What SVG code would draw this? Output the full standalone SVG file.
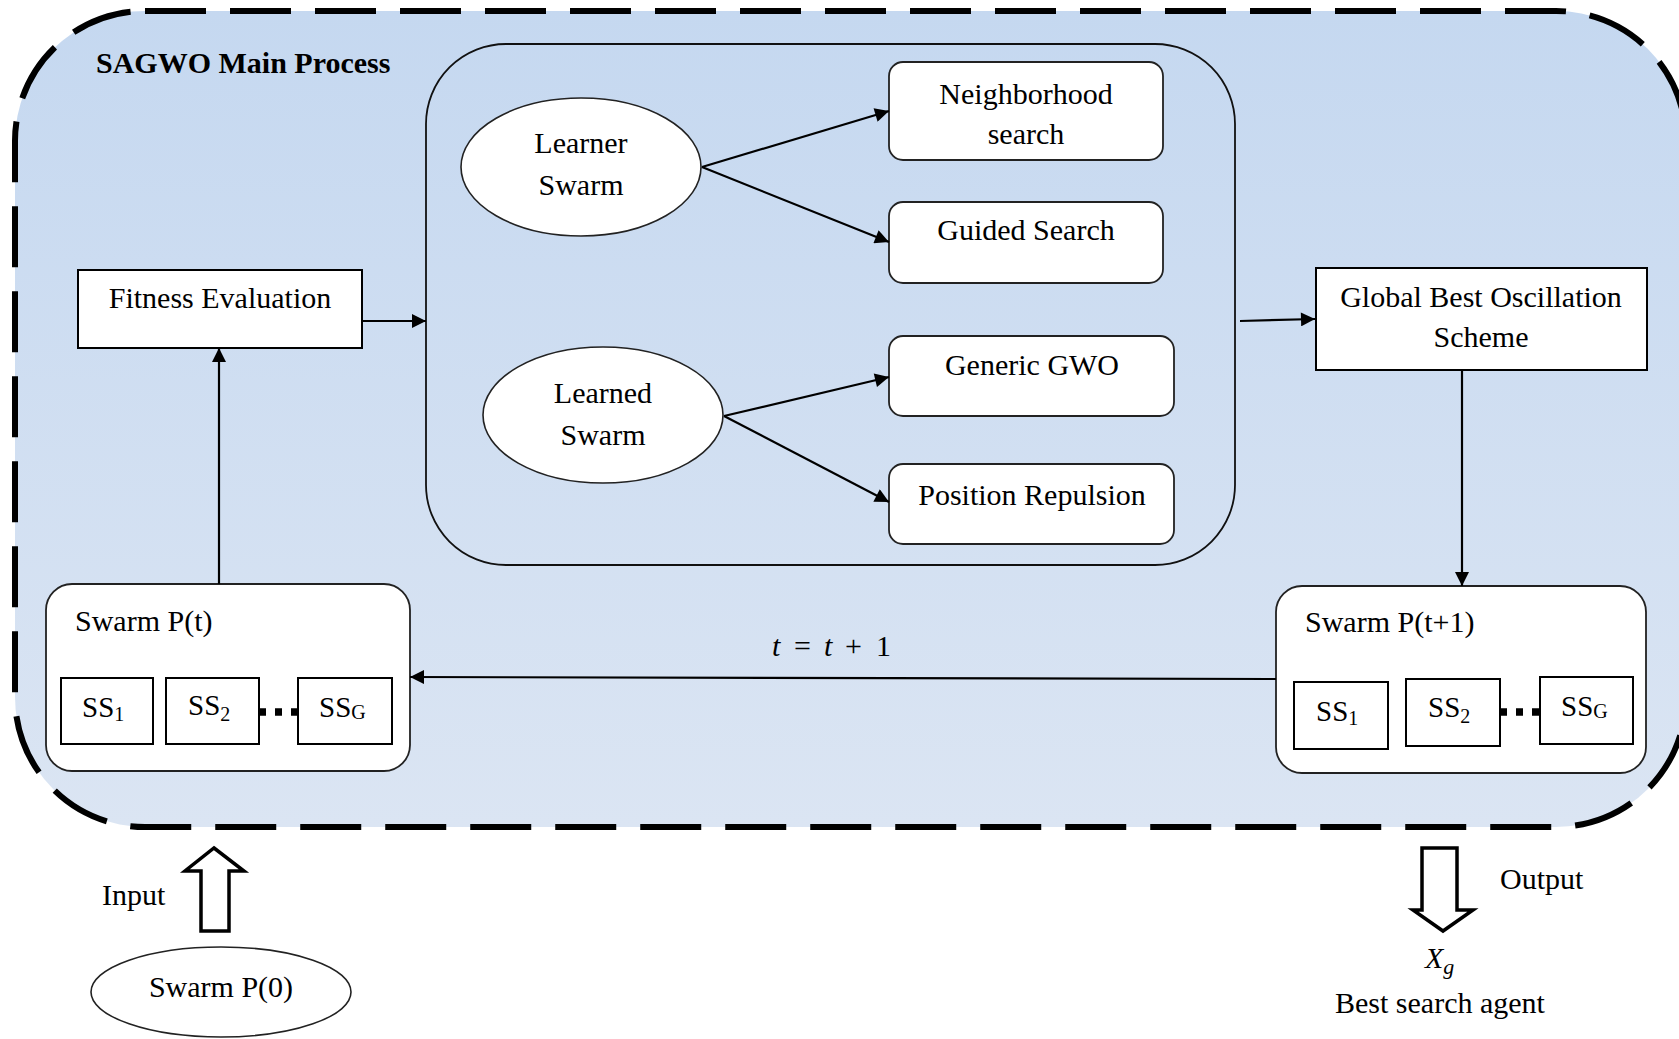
<svg xmlns="http://www.w3.org/2000/svg" width="1679" height="1039" viewBox="0 0 1679 1039">
<defs>
<linearGradient id="bg" x1="0" y1="0" x2="0" y2="1">
<stop offset="0" stop-color="#c5d8f0"/>
<stop offset="1" stop-color="#dbe5f3"/>
</linearGradient>
<marker id="arr" viewBox="0 0 10 10" refX="10" refY="5" markerWidth="15" markerHeight="14" markerUnits="userSpaceOnUse" orient="auto">
<path d="M0,0 L10,5 L0,10 z" fill="#000"/>
</marker>
</defs>
<style>
text{font-family:"Liberation Serif","Times New Roman",serif;fill:#000;font-size:30px}
.mid{text-anchor:middle}
.box{fill:#fff;stroke:#000;stroke-width:2}
.rbox{fill:#fff;stroke:#222;stroke-width:1.8}
.ell{fill:#fff;stroke:#222;stroke-width:1.6}
.con{fill:none;stroke:#000;stroke-width:2.2;marker-end:url(#arr)}
.dots{fill:none;stroke:#000;stroke-width:7.5;stroke-dasharray:7 9}
.blk{fill:#fff;stroke:#000;stroke-width:3.5;stroke-linejoin:miter}
.ss{font-size:29px}
.sub{font-size:20px}
</style>

<g id="main-process">
<rect x="15" y="11" width="1671" height="816" rx="130" ry="130" fill="url(#bg)" stroke="#000" stroke-width="6" stroke-dasharray="61 24"/>
<text x="96" y="73" font-weight="bold" font-size="31">SAGWO Main Process</text>
</g>

<g id="inner-process">
<rect x="426" y="44" width="809" height="521" rx="80" ry="80" fill="none" stroke="#111" stroke-width="1.8"/>
</g>

<g id="learner-swarm">
<ellipse cx="581" cy="167" rx="120" ry="69" class="ell"/>
<text x="581" y="153" class="mid">Learner</text>
<text x="581" y="195" class="mid">Swarm</text>
</g>

<g id="learned-swarm">
<ellipse cx="603" cy="415" rx="120" ry="68" class="ell"/>
<text x="603" y="403" class="mid">Learned</text>
<text x="603" y="445" class="mid">Swarm</text>
</g>

<g id="neighborhood-search">
<rect x="889" y="62" width="274" height="98" rx="14" class="rbox"/>
<text x="1026" y="104" class="mid">Neighborhood</text>
<text x="1026" y="144" class="mid">search</text>
</g>

<g id="guided-search">
<rect x="889" y="202" width="274" height="81" rx="14" class="rbox"/>
<text x="1026" y="240" class="mid">Guided Search</text>
</g>

<g id="generic-gwo">
<rect x="889" y="336" width="285" height="80" rx="14" class="rbox"/>
<text x="1032" y="375" class="mid" font-size="26">Generic GWO</text>
</g>

<g id="position-repulsion">
<rect x="889" y="464" width="285" height="80" rx="14" class="rbox"/>
<text x="1032" y="505" class="mid">Position Repulsion</text>
</g>

<g id="fitness-evaluation">
<rect x="78" y="270" width="284" height="78" class="box"/>
<text x="220" y="308" class="mid">Fitness Evaluation</text>
</g>

<g id="global-best">
<rect x="1316" y="268" width="331" height="102" class="box"/>
<text x="1481" y="307" class="mid">Global Best Oscillation</text>
<text x="1481" y="347" class="mid">Scheme</text>
</g>

<g id="swarm-pt">
<rect x="46" y="584" width="364" height="187" rx="26" class="rbox"/>
<text x="75" y="631">Swarm P(t)</text>
<rect x="61" y="678" width="92" height="66" class="box"/>
<text x="82" y="717" class="ss">SS<tspan class="sub" dy="4">1</tspan></text>
<rect x="166" y="678" width="93" height="66" class="box"/>
<text x="188" y="715" class="ss">SS<tspan class="sub" dy="6">2</tspan></text>
<rect x="298" y="678" width="94" height="66" class="box"/>
<text x="319" y="717" class="ss">SS<tspan class="sub" dy="2">G</tspan></text>
</g>

<g id="swarm-pt1">
<rect x="1276" y="586" width="370" height="187" rx="26" class="rbox"/>
<text x="1305" y="632">Swarm P(t+1)</text>
<rect x="1294" y="682" width="94" height="67" class="box"/>
<text x="1316" y="721" class="ss">SS<tspan class="sub" dy="4">1</tspan></text>
<rect x="1406" y="679" width="94" height="67" class="box"/>
<text x="1428" y="717" class="ss">SS<tspan class="sub" dy="6">2</tspan></text>
<rect x="1540" y="677" width="93" height="67" class="box"/>
<text x="1561" y="716" class="ss">SS<tspan class="sub" dy="2">G</tspan></text>
</g>

<g id="swarm-p0">
<ellipse cx="221" cy="992" rx="130" ry="45" class="ell"/>
<text x="221" y="997" class="mid">Swarm P(0)</text>
</g>

<g id="input">
<polygon points="214,848 244,871 229,871 229,931 201,931 201,871 185,871" class="blk"/>
<text x="102" y="905">Input</text>
</g>

<g id="output">
<polygon points="1422,848 1457,848 1457,910 1473,910 1443,931 1413,910 1422,910" class="blk"/>
<text x="1500" y="889">Output</text>
<text x="1425" y="968" font-style="italic" font-size="29">X<tspan font-size="22" dy="6">g</tspan></text>
<text x="1335" y="1013">Best search agent</text>
</g>

<g id="connectors">
<path d="M702,167 L889,111" class="con"/>
<path d="M702,167 L889,242" class="con"/>
<path d="M724,416 L889,377" class="con"/>
<path d="M724,416 L889,502" class="con"/>
<path d="M362,321 L426,321" class="con"/>
<path d="M1240,321 L1315,319" class="con"/>
<path d="M1462,370 L1462,586" class="con"/>
<path d="M1276,679 L410,677" class="con"/>
<path d="M219,584 L219,348" class="con"/>
<path d="M259,712 L298,712" class="dots"/>
<path d="M1500,712 L1540,712" class="dots"/>
<text y="656"><tspan x="772" font-style="italic">t</tspan><tspan x="794">=</tspan><tspan x="824" font-style="italic">t</tspan><tspan x="845">+</tspan><tspan x="876">1</tspan></text>
</g>
</svg>
